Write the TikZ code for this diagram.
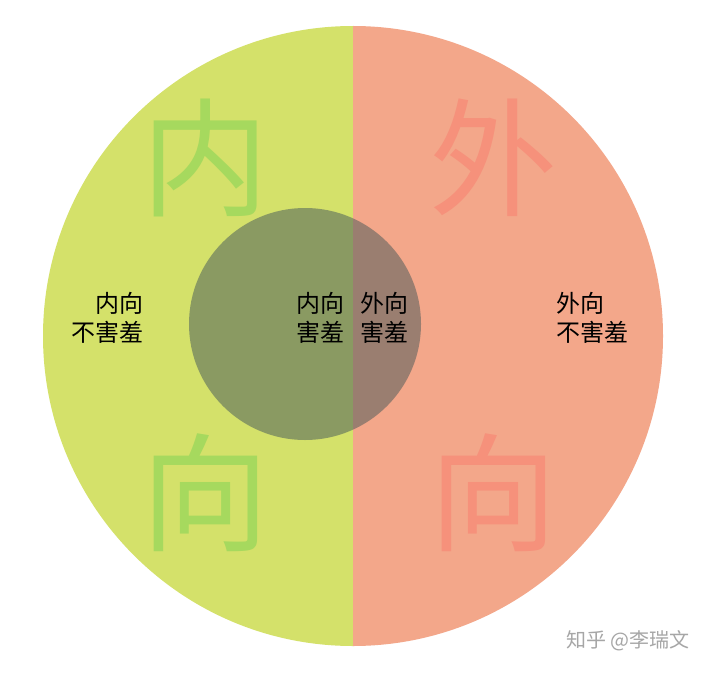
\documentclass[tikz,border=0pt]{standalone}
\usepackage{fontspec}
\newfontfamily\cjk{Noto Sans CJK SC}
\definecolor{lgreen}{HTML}{D4E16A}
\definecolor{lred}{HTML}{F3A78A}
\definecolor{bgreen}{HTML}{A6D95E}
\definecolor{bred}{HTML}{F6917B}
\definecolor{igreen}{HTML}{8A9A62}
\definecolor{ired}{HTML}{9A7E70}
\tikzset{big/.style={font=\cjk\fontsize{128}{128}\selectfont},
 small/.style={font=\cjk\fontsize{24}{29}\selectfont, text=black}}
\begin{document}
\begin{tikzpicture}[x=1pt,y=-1pt]
\useasboundingbox (0,0) rectangle (714,674);
\fill[white] (0,0) rectangle (714,674);
\begin{scope}
\clip (0,0) rectangle (353,674);
\fill[lgreen] (353,336) circle (310);
\fill[igreen] (305,324) circle (116);
\end{scope}
\begin{scope}
\clip (353,0) rectangle (714,674);
\fill[lred] (353,336) circle (310);
\fill[ired] (305,324) circle (116);
\end{scope}
\node[big,text=bgreen] (n1) at (205,158) {内};
\node[big,text=bred] (w1) at (493,158) {外};
\node[big,text=bgreen] (x1) at (205,493) {向};
\node[big,text=bred] (x2) at (493,493) {向};
\node[small,align=right,anchor=east] (t1) at (147,318) {内向\\不害羞};
\node[small,align=right,anchor=east] (t2) at (348,318) {内向\\害羞};
\node[small,align=left,anchor=west] (t3) at (357,318) {外向\\害羞};
\node[small,align=left,anchor=west] (t4) at (553,318) {外向\\不害羞};
\node[font=\cjk\fontsize{20}{20}\selectfont,text=gray!70] (wm) at (628,641) {知乎 @李瑞文};
\end{tikzpicture}
\end{document}
